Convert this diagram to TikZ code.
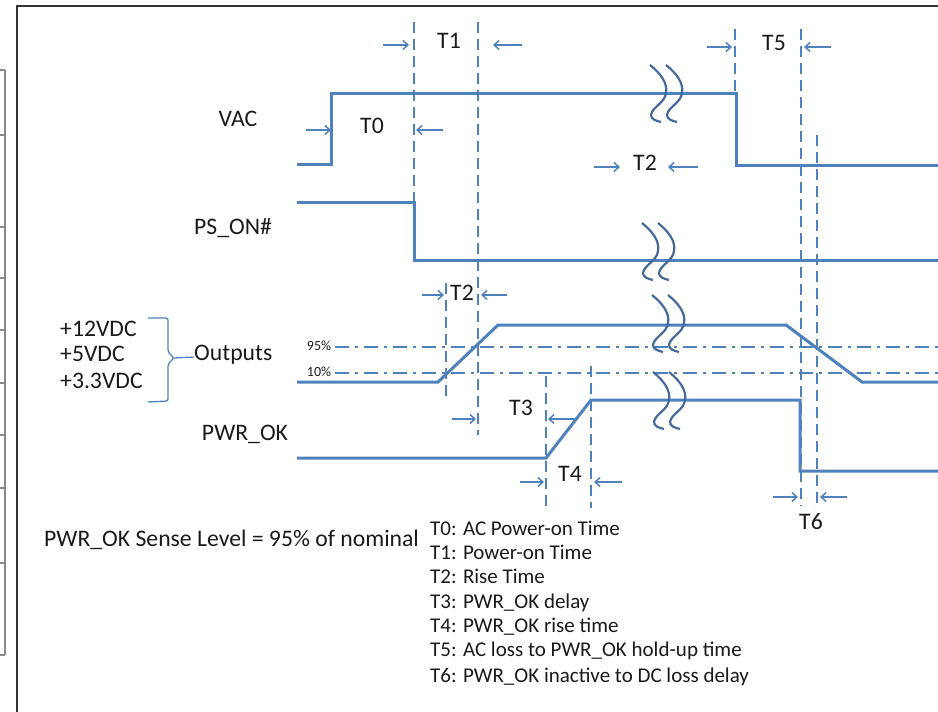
\documentclass[tikz,border=0pt]{standalone}
\usepackage{fontspec}
\setmainfont{Carlito}
\usetikzlibrary{arrows.meta}
\definecolor{sig}{HTML}{4F81BD}
\definecolor{brkc}{HTML}{46699C}
\definecolor{txt}{HTML}{1A1A1A}
\definecolor{framec}{HTML}{333333}
\definecolor{tablec}{HTML}{8A8A8A}
\begin{document}
\begin{tikzpicture}[x=1pt,y=-1pt,
  sigline/.style={sig, line width=3pt},
  vdash/.style={sig, line width=2.8pt, dash pattern=on 11pt off 6pt},
  ddot/.style={sig, line width=2.3pt, dash pattern=on 14pt off 6pt on 3pt off 6pt},
  marrow/.style={sig, line width=1.5pt, -{Straight Barb[length=5pt,width=9pt]}},
  brace/.style={sig, line width=1.3pt, rounded corners=2pt},
  brkline/.style={brkc, line width=2.2pt},
  framel/.style={framec, line width=1.8pt},
  tablel/.style={tablec, line width=2pt},
  lbl/.style={txt, font=\fontsize{23.7}{28}\selectfont, inner sep=0pt, text height=0.62em, text depth=0pt},
  pct/.style={txt, font=\fontsize{14}{16}\selectfont, inner sep=0pt, text height=0.62em, text depth=0pt},
  leg/.style={txt, font=\fontsize{21}{24}\selectfont, inner sep=0pt, text height=0.62em, text depth=0pt, anchor=west},
  brk/.pic={\foreach \dx in {0,16} {\draw[brkline, shift={(\dx,0)}] (0,0) .. controls (10,8) and (18,18) .. (16,28) .. controls (15,38) and (2,42) .. (1,50) .. controls (1,54) and (6,56) .. (11,57);}}
]
\useasboundingbox (0,0) rectangle (938,712);

% frame and partial table at left
\draw[framel] (17,712) -- (17,6) -- (938,6);
\draw[tablel] (5,70) -- (5,655);
\foreach \yy in {70,135,227,278,330,383,435,488,563,655} {\draw[tablel] (0,\yy) -- (5,\yy);}

% threshold lines
\draw[ddot] (335,347) -- (938,347);
\draw[ddot] (335,373) -- (938,373);
\node[pct] (p95) at (319,347) {95\%};
\node[pct] (p10) at (319,373) {10\%};

% vertical dashed markers
\draw[vdash] (414,22) -- (414,202);
\draw[vdash] (478,22) -- (478,435);
\draw[vdash] (446,283) -- (446,402);
\draw[vdash] (546,376) -- (546,508);
\draw[vdash] (591,366) -- (591,508);
\draw[vdash] (735,29) -- (735,93);
\draw[vdash] (801,29) -- (801,506);
\draw[vdash] (817,135) -- (817,506);

% signals
\draw[sigline] (297,164) -- (331,164) -- (331,93) -- (736,93) -- (736,165) -- (938,165);
\draw[sigline] (297,202) -- (414,202) -- (414,260) -- (938,260);
\draw[sigline] (297,382) -- (438,382) -- (498,325) -- (786,325) -- (862,382) -- (938,382);
\draw[sigline] (297,458) -- (546,458) -- (591,400) -- (800,400) -- (800,471) -- (938,471);

% breaks
\pic at (650,65) {brk};
\pic at (642,223) {brk};
\pic at (652,295) {brk};
\pic at (653,372) {brk};

% signal names
\node[lbl] (vac) at (238,123) {VAC};
\node[lbl] (pson) at (233,231) {PS\_ON\#};
\node[lbl, anchor=west] (v12) at (60,333) {+12VDC};
\node[lbl, anchor=west] (v5) at (60,358) {+5VDC};
\node[lbl, anchor=west] (v33) at (60,385) {+3.3VDC};
\node[lbl, anchor=west] (outs) at (194,357) {Outputs};
\node[lbl] (pwrok) at (245,437) {PWR\_OK};
\draw[brace] (148,318) -- (168,318) -- (168,352) -- (174,358) -- (168,364) -- (168,401) -- (148,402);
\draw[sig, line width=1.3pt] (174,358) -- (outs.west);

% timing labels and arrows
\node[lbl] (t1) at (449,45) {T1};
\draw[marrow] (383,45) -- (409,45);
\draw[marrow] (522,45) -- (493,45);
\node[lbl] (t0) at (372,130) {T0};
\draw[marrow] (306,130) -- (331,130);
\draw[marrow] (443,130) -- (416,130);
\node[lbl] (t5) at (774,47) {T5};
\draw[marrow] (707,47) -- (732,47);
\draw[marrow] (831,47) -- (804,47);
\node[lbl] (t2a) at (645,167) {T2};
\draw[marrow] (594,167) -- (620,167);
\draw[marrow] (698,167) -- (668,167);
\node[lbl] (t2b) at (462,297) {T2};
\draw[marrow] (422,295) -- (444,295);
\draw[marrow] (507,295) -- (481,295);
\draw[marrow] (452,419) -- (476,419);
\node[lbl] (t3) at (521,412) {T3};
\draw[marrow] (575,419) -- (548,419);
\node[lbl] (t4) at (570,478) {T4};
\draw[marrow] (520,482) -- (544,482);
\draw[marrow] (622,482) -- (594,482);
\node[lbl] (t6) at (811,526) {T6};
\draw[marrow] (773,497) -- (798,497);
\draw[marrow] (847,497) -- (820,497);

% notes
\node[lbl, anchor=west] (sense) at (44,543) {PWR\_OK Sense Level = 95\% of nominal};
\node[leg] (l0) at (430,532) {T0: AC Power-on Time};
\node[leg] (l1) at (430,556) {T1: Power-on Time};
\node[leg] (l2) at (430,580) {T2: Rise Time};
\node[leg] (l3) at (430,605) {T3: PWR\_OK delay};
\node[leg] (l4) at (430,629) {T4: PWR\_OK rise time};
\node[leg] (l5) at (430,653) {T5: AC loss to PWR\_OK hold-up time};
\node[leg] (l6) at (430,679) {T6: PWR\_OK inactive to DC loss delay};
\end{tikzpicture}
\end{document}
